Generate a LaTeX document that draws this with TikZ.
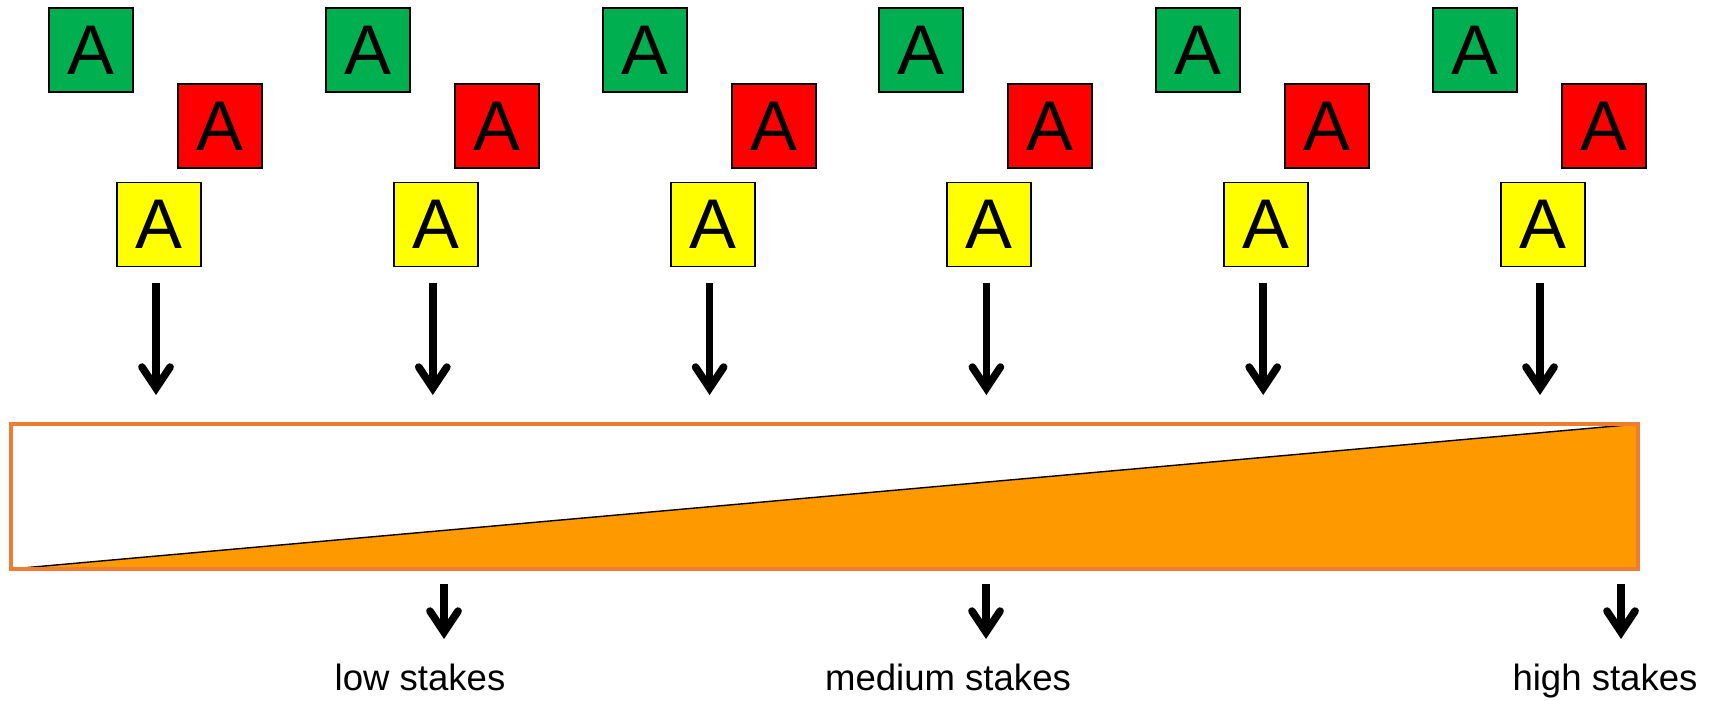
\documentclass[tikz,border=0pt]{standalone}
\usepackage{fontspec}
\setmainfont{Liberation Sans}
\usetikzlibrary{arrows.meta}

\definecolor{boxgreen}{RGB}{0,176,80}
\definecolor{boxred}{RGB}{255,0,0}
\definecolor{boxyellow}{RGB}{255,255,0}
\definecolor{barline}{RGB}{237,125,49}
\definecolor{barfill}{RGB}{255,153,0}

\begin{document}
\begin{tikzpicture}[x=0.025cm,y=-0.025cm,
    letter box/.style={draw,line width=1.4pt,minimum size=2.1cm,inner sep=0pt,
                       font=\fontsize{50}{50}\selectfont},
    drop/.style={-{Straight Barb[length=15pt,width=20pt,line cap=round]},line width=5.4pt},
    stake label/.style={anchor=base,font=\fontsize{26}{30}\selectfont}]

  \useasboundingbox (0,0) rectangle (1711,701);

  % six groups of letters, each pointing at the bar
  \foreach \i in {0,...,5} {
    \pgfmathsetmacro{\dx}{\i*276.8}
    \node[letter box,fill=boxgreen] (g\i) at (91+\dx,50) {A};
    \node[letter box,fill=boxred] (r\i) at (220+\dx,126) {A};
    \node[letter box,fill=boxyellow] (y\i) at (159+\dx,224.5) {A};
    \coordinate (a\i) at (156+\dx,395);
    \draw[drop,shorten <=0.4cm] (y\i.south -| a\i) -- (a\i);
  }

  % the stakes bar
  \node[minimum width=40.675cm,minimum height=3.625cm,inner sep=0pt,outer sep=0pt] (bar) at (824.5,496.5) {};
  \fill[barfill] (bar.south west) -- (bar.north east) -- (bar.south east) -- cycle;
  \draw[line width=1pt] (bar.south west) -- (bar.north east);
  \draw[barline,line width=2.5pt] (bar.south west) rectangle (bar.north east);

  % labels under the bar
  \node[stake label] (low) at (420,690) {low stakes};
  \node[stake label] (medium) at (948,690) {medium stakes};
  \node[stake label] (high) at (1605,690) {high stakes};

  \coordinate (lowtop) at (444,584);     \coordinate (lowtip) at (444,639);
  \coordinate (medtop) at (986,584);     \coordinate (medtip) at (986,639);
  \coordinate (hightop) at (1621,584);   \coordinate (hightip) at (1621,639);
  \draw[drop] (lowtop) -- (lowtip);
  \draw[drop] (medtop) -- (medtip);
  \draw[drop] (hightop) -- (hightip);
\end{tikzpicture}
\end{document}
